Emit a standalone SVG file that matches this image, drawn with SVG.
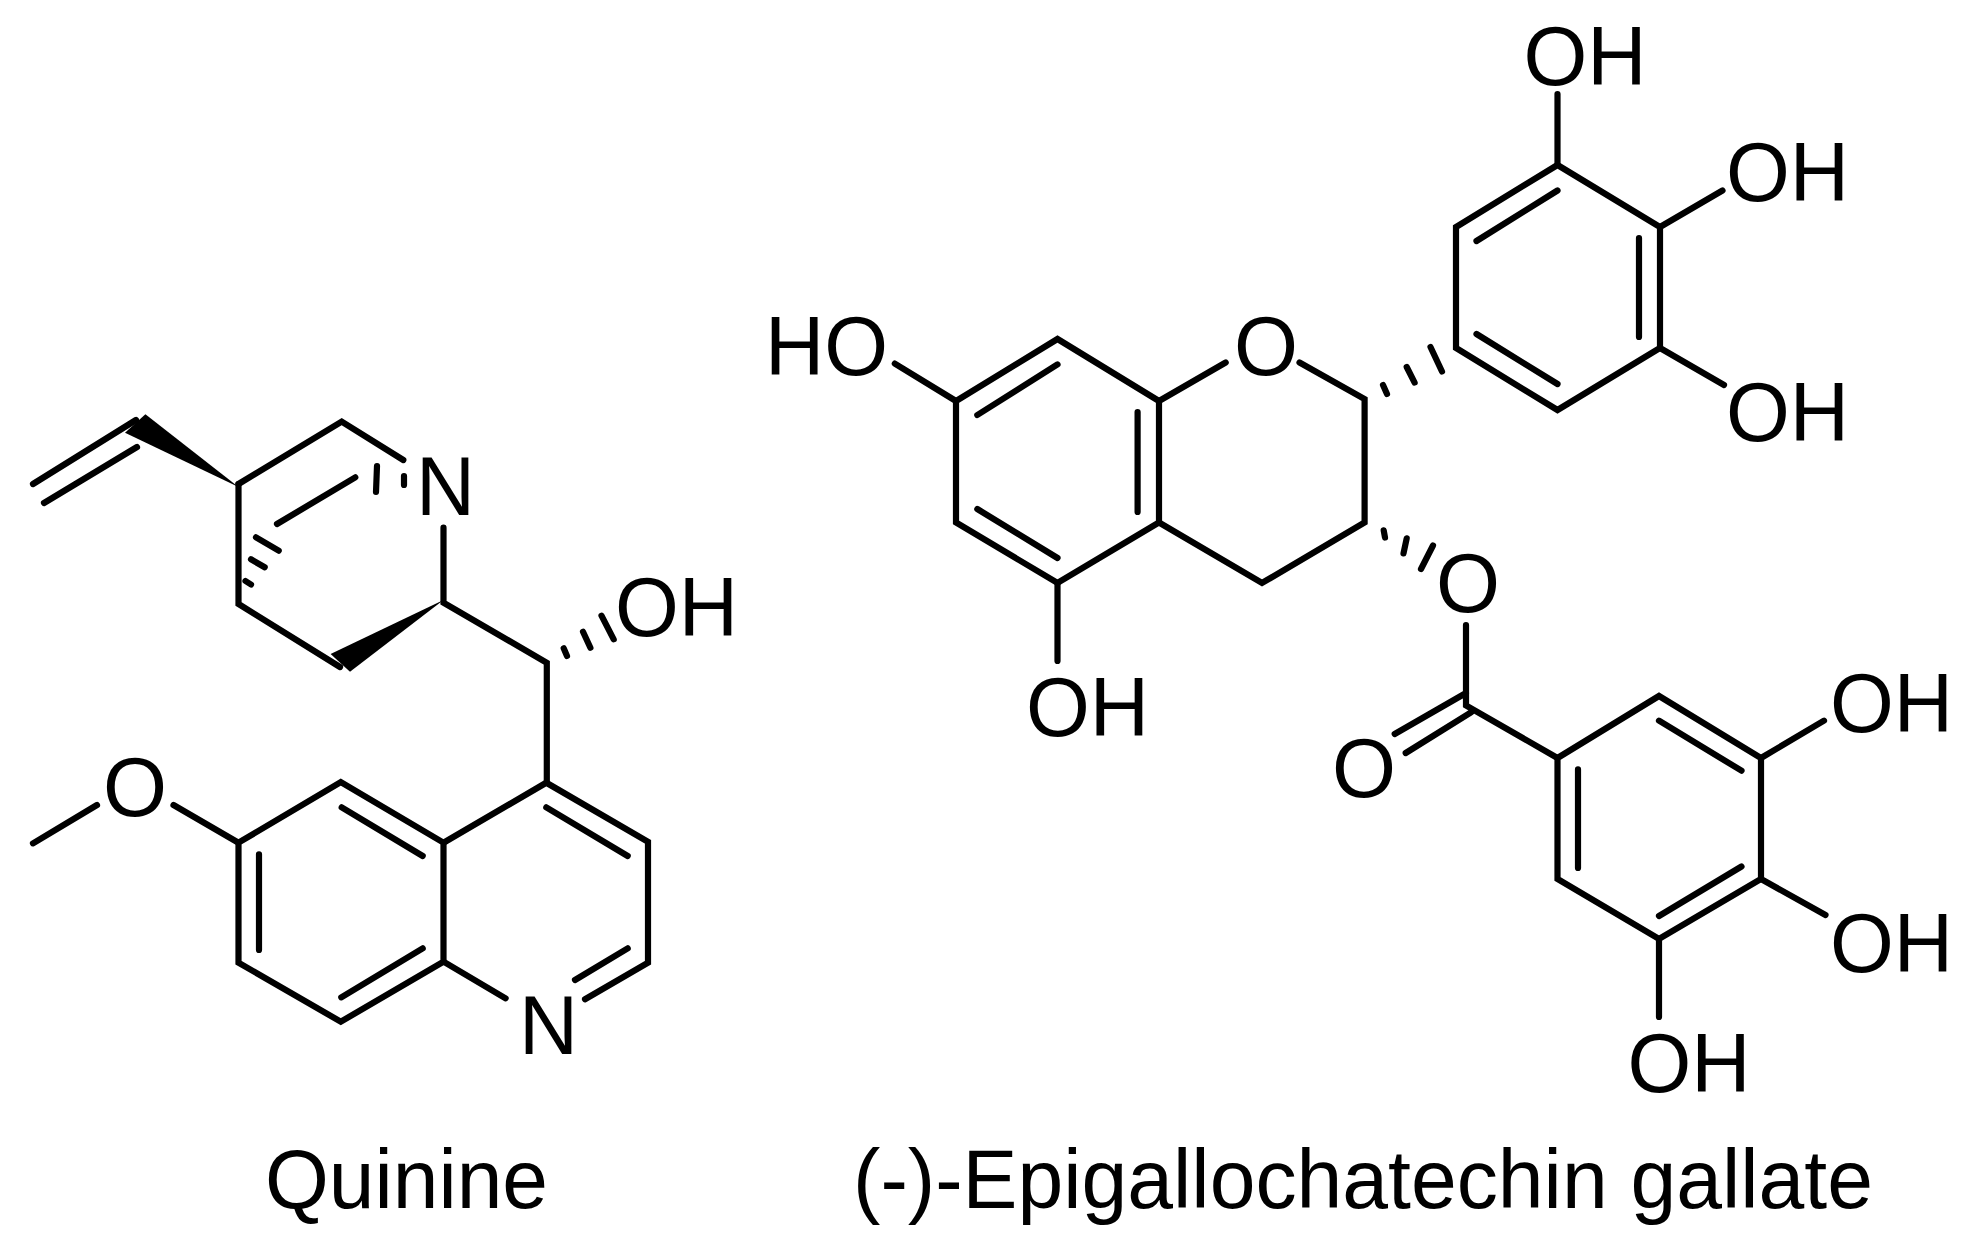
<svg xmlns="http://www.w3.org/2000/svg" width="1984" height="1248" viewBox="0 0 1984 1248">
<style>
.b{fill:none;stroke:#000;stroke-width:6.2;stroke-linecap:round;stroke-linejoin:miter}
.w{fill:#000;stroke:none}
text{font-family:"Liberation Sans",Arial,sans-serif;font-size:84px;fill:#000}
</style>
<rect width="1984" height="1248" fill="#fff"/>
<g id="connectors">
<g id="quinine-bonds">
<path class="b" d="M33 484L136 420M44 503L137 447"/>
<polygon class="w" points="238.5,487 145.4,414.3 125,432.7"/>
<path class="b" d="M238.5 484L341.7 421.7L403.3 460M277 524L355.3 477.3M377 466L376 492M404 476L404 485"/>
<path class="b" d="M256 537.3L278.7 550.7M251 559.3L264.7 567.3M245.5 581L251 584.5"/>
<path class="b" d="M238.5 484V604L340 667"/>
<polygon class="w" points="443.5,600 330.6,654 350,671.7"/>
<path class="b" d="M443.5 527.7V602.7L546.8 662.7V782.7"/>
<path class="b" d="M563.7 648.3L567 656M583 631.7L590.4 647.7M601.5 615.7L613.7 639.3"/>
<path class="b" d="M33 843.3L97 805M173.5 805L238.5 842.7"/>
<path class="b" d="M238.5 842.7L340.8 782L443.5 842.7V961.7L340.8 1021.7L238.5 962.7Z"/>
<path class="b" d="M259 854.3V950M341.7 807.3L422.7 856M422.7 948.3L341.3 997.3"/>
<path class="b" d="M443.5 842.7L546.3 782.7L648 841.7V962.7L585 999.3M443.5 961.7L505.6 998.3"/>
<path class="b" d="M546.3 807.3L627.7 856M627.7 948.3L575 980"/>
</g>
<g id="egcg-bonds">
<path class="b" d="M1557.5 94V165"/>
<path class="b" d="M1557.5 165L1660 227V348L1557.5 410L1456 348V227Z"/>
<path class="b" d="M1557.5 190.5L1476.5 241M1639 238V337M1557.5 384L1476.5 334"/>
<path class="b" d="M1660 227L1722.5 190.5M1660 348L1724 385"/>
<path class="b" d="M1383 385L1387 394M1406.7 367L1414.6 382.6M1430.5 347L1442 371.5"/>
<path class="b" d="M1299.5 362.5L1364.6 399V522.5L1262 583L1159 522.5M1225.7 362.5L1159 401"/>
<path class="b" d="M1159 401L1057.5 339L956 401V522.5L1057.5 583L1159 522.5Z"/>
<path class="b" d="M1057.5 364.4L977.3 415M1137.6 412V512M1057.5 558L977.3 509"/>
<path class="b" d="M894.8 363.6L956 401M1057.5 583V661"/>
<path class="b" d="M1383.7 530.4L1385 537.5M1406.7 538.3L1403.5 553.4M1433 545.5L1421 569"/>
<path class="b" d="M1466 625V705.4L1557.5 758M1466 693L1394.7 734M1471 712.4L1405.7 753"/>
<path class="b" d="M1557.5 758L1659 696L1761 758V879L1659 939L1557.5 879Z"/>
<path class="b" d="M1578 769.4V868M1659 720.7L1741.5 770.7M1741.5 866.5L1659 916"/>
<path class="b" d="M1761 758L1824 720.7M1761 879L1825.5 915M1659 939V1017"/>
</g>
</g>
<g id="quinine-n1"><text x="416" y="515" textLength="59" lengthAdjust="spacingAndGlyphs">N</text></g>
<g id="quinine-oh"><text x="615" y="636" textLength="123" lengthAdjust="spacingAndGlyphs">OH</text></g>
<g id="quinine-o"><text x="103" y="816" textLength="64" lengthAdjust="spacingAndGlyphs">O</text></g>
<g id="quinine-n2"><text x="519" y="1054" textLength="59" lengthAdjust="spacingAndGlyphs">N</text></g>
<g id="quinine-label"><text x="265" y="1208" textLength="283" lengthAdjust="spacingAndGlyphs">Quinine</text></g>
<g id="egcg-oh1"><text x="1523.5" y="85" textLength="123" lengthAdjust="spacingAndGlyphs">OH</text></g>
<g id="egcg-oh2"><text x="1726" y="201" textLength="123" lengthAdjust="spacingAndGlyphs">OH</text></g>
<g id="egcg-oh3"><text x="1726" y="441" textLength="123" lengthAdjust="spacingAndGlyphs">OH</text></g>
<g id="egcg-ho"><text x="765" y="375" textLength="123" lengthAdjust="spacingAndGlyphs">HO</text></g>
<g id="egcg-o-ring"><text x="1234" y="375" textLength="64" lengthAdjust="spacingAndGlyphs">O</text></g>
<g id="egcg-o-ester"><text x="1436" y="612" textLength="64" lengthAdjust="spacingAndGlyphs">O</text></g>
<g id="egcg-oh4"><text x="1026" y="736" textLength="123" lengthAdjust="spacingAndGlyphs">OH</text></g>
<g id="egcg-o-carbonyl"><text x="1332" y="797" textLength="64" lengthAdjust="spacingAndGlyphs">O</text></g>
<g id="egcg-oh5"><text x="1830" y="732" textLength="123" lengthAdjust="spacingAndGlyphs">OH</text></g>
<g id="egcg-oh6"><text x="1830" y="972" textLength="123" lengthAdjust="spacingAndGlyphs">OH</text></g>
<g id="egcg-oh7"><text x="1627.5" y="1092" textLength="123" lengthAdjust="spacingAndGlyphs">OH</text></g>
<g id="egcg-label"><text x="853" y="1208" textLength="1020" lengthAdjust="spacingAndGlyphs">(-)-Epigallochatechin gallate</text></g>
</svg>
